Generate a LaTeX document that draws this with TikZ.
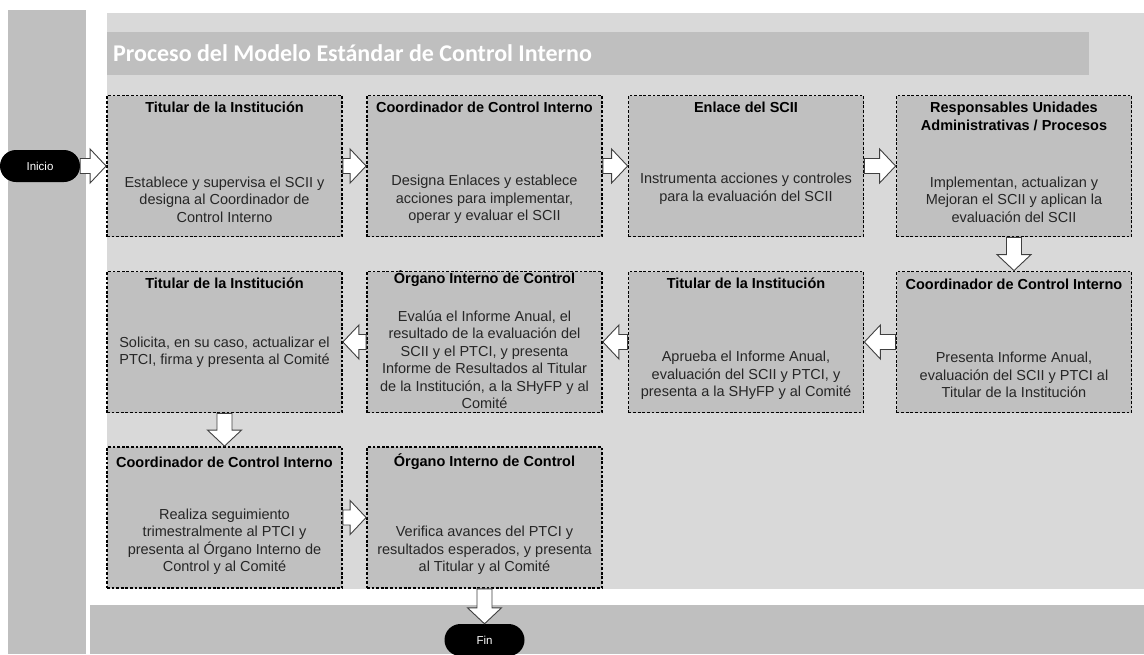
\documentclass[tikz,border=0pt]{standalone}
\usepackage{fontspec}
\setmainfont{Liberation Sans}
\newfontfamily\titlefont{Carlito}
\usepackage{tikz}
\usetikzlibrary{calc}
\definecolor{panelgray}{HTML}{D9D9D9}
\definecolor{bargray}{HTML}{BFBFBF}
\definecolor{boxgray}{HTML}{C0C0C0}
\definecolor{arrowline}{HTML}{404040}
\tikzset{
  procbox/.style={draw=black, fill=boxgray, line width=1.8pt, dash pattern=on 2.8pt off 1.8pt,
    minimum width=235pt, minimum height=141pt, inner sep=0pt},
  boxtitle/.style={font=\bfseries\fontsize{14.5}{17.5}\selectfont, align=center, inner sep=0pt},
  boxtext/.style={font=\fontsize{14.5}{17.5}\selectfont, text=black!85, align=center, inner sep=0pt},
  terminal/.style={fill=black, rounded corners=16pt, minimum width=80pt, minimum height=32pt,
    inner sep=0pt, text=white, font=\fontsize{11.5}{13}\selectfont},
  blockarrowline/.style={draw=arrowline, fill=white, line width=0.9pt, line join=miter}
}
% block arrow from #1 to #2
\newcommand{\blockarrow}[2]{%
  \path (#1) coordinate (ba-s) (#2) coordinate (ba-t);
  \path ($(ba-t)!16pt!(ba-s)$) coordinate (ba-h);
  \draw[blockarrowline] ($(ba-s)!7.5pt!90:(ba-t)$) -- ($(ba-h)!7.5pt!-90:(ba-s)$)
    -- ($(ba-h)!17pt!-90:(ba-s)$) -- (ba-t) -- ($(ba-h)!17pt!90:(ba-s)$)
    -- ($(ba-h)!7.5pt!90:(ba-s)$) -- ($(ba-s)!7.5pt!-90:(ba-t)$) -- cycle;
}

\begin{document}
\begin{tikzpicture}[x=1pt,y=-1pt]
\useasboundingbox (0,0) rectangle (1144,654);
\clip (0,0) rectangle (1144,654);

% lanes
\fill[bargray] (8,10) rectangle (86,654);
\fill[panelgray] (107,13) rectangle (1144,589);
\fill[bargray] (107,32) rectangle (1089,75);
\fill[bargray] (90,605) rectangle (1144,654);
\node[anchor=west, text=white, font=\titlefont\bfseries\fontsize{24}{26}\selectfont, inner sep=0pt] (titulo) at (113,53.5) {Proceso del Modelo Estándar de Control Interno};

% row 1
\node[procbox] (b11) at (224.5,166) {};
\node[procbox] (b12) at (484.5,166) {};
\node[procbox] (b13) at (746,166) {};
\node[procbox] (b14) at (1014,166) {};
% row 2
\node[procbox] (b21) at (224.5,342) {};
\node[procbox] (b22) at (484.5,342) {};
\node[procbox] (b23) at (746,342) {};
\node[procbox] (b24) at (1014,342) {};
% row 3
\node[procbox] (b31) at (224.5,517.5) {};
\node[procbox] (b32) at (484.5,517.5) {};

\node[boxtitle] (t11) at (224.5,107) {Titular de la Institución};
\node[boxtext] (x11) at (224.5,199.5) {Establece y supervisa el SCII y\\designa al Coordinador de\\Control Interno};
\node[boxtitle] (t12) at (484.5,107) {Coordinador de Control Interno};
\node[boxtext] (x12) at (484.5,199.5) {Designa Enlaces y establece\\acciones para implementar,\\operar y evaluar el SCII};
\node[boxtitle] (t13) at (746,107) {Enlace del SCII};
\node[boxtext] (x13) at (746,188.5) {Instrumenta acciones y controles\\para la evaluación del SCII};
\node[boxtitle] (t14) at (1014,116.5) {Responsables Unidades\\Administrativas / Procesos};
\node[boxtext] (x14) at (1014,199.5) {Implementan, actualizan y\\Mejoran el SCII y aplican la\\evaluación del SCII};

\node[boxtitle] (t21) at (224.5,283) {Titular de la Institución};
\node[boxtext] (x21) at (224.5,352) {Solicita, en su caso, actualizar el\\PTCI, firma y presenta al Comité};
\node[boxtitle] (t22) at (484.5,278.5) {Órgano Interno de Control};
\node[boxtext] (x22) at (484.5,359.5) {Evalúa el Informe Anual, el\\resultado de la evaluación del\\SCII y el PTCI, y presenta\\Informe de Resultados al Titular\\de la Institución, a la SHyFP y al\\Comité};
\node[boxtitle] (t23) at (746,283) {Titular de la Institución};
\node[boxtext] (x23) at (746,375.5) {Aprueba el Informe Anual,\\evaluación del SCII y PTCI, y\\presenta a la SHyFP y al Comité};
\node[boxtitle] (t24) at (1014,284) {Coordinador de Control Interno};
\node[boxtext] (x24) at (1014,375) {Presenta Informe Anual,\\evaluación del SCII y PTCI al\\Titular de la Institución};

\node[boxtitle] (t31) at (224.5,462) {Coordinador de Control Interno};
\node[boxtext] (x31) at (224.5,541.5) {Realiza seguimiento\\trimestralmente al PTCI y\\presenta al Órgano Interno de\\Control y al Comité};
\node[boxtitle] (t32) at (484.5,462) {Órgano Interno de Control};
\node[boxtext] (x32) at (484.5,550.5) {Verifica avances del PTCI y\\resultados esperados, y presenta\\al Titular y al Comité};

% start and end
\node[terminal] (inicio) at (40,166) {Inicio};
\node[terminal] (fin) at (484.5,640) {Fin};

% flow
\blockarrow{inicio.east}{b11.west}
\blockarrow{b11.east}{b12.west}
\blockarrow{b12.east}{b13.west}
\blockarrow{b13.east}{b14.west}
\blockarrow{b14.south}{b24.north}
\blockarrow{b24.west}{b23.east}
\blockarrow{b23.west}{b22.east}
\blockarrow{b22.west}{b21.east}
\blockarrow{b21.south}{b31.north}
\blockarrow{b31.east}{b32.west}
\blockarrow{b32.south}{fin.north}
\end{tikzpicture}
\end{document}
